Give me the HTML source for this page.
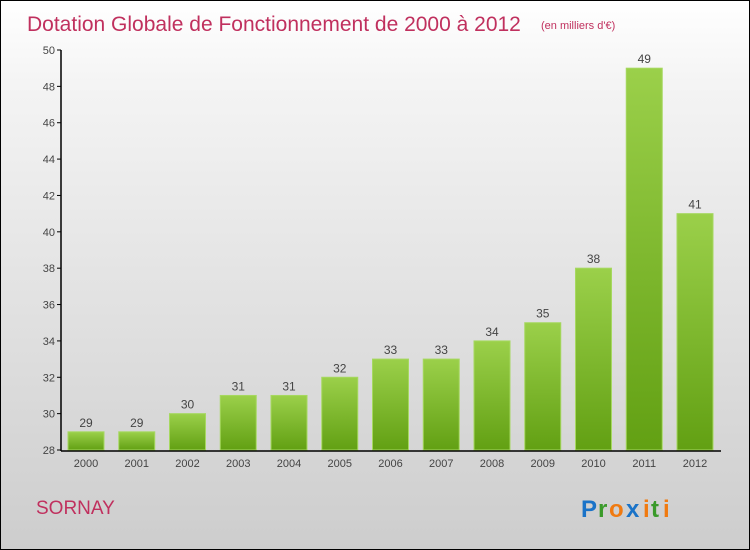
<!DOCTYPE html>
<html><head><meta charset="utf-8"><style>
body{margin:0}
#c{position:relative;width:748px;height:548px;border:1px solid #000;background:linear-gradient(#ffffff,#f4f4f4 15%,#cdcdcd);font-family:"Liberation Sans",sans-serif;overflow:hidden}
</style></head><body>
<div id="c">
<svg id="s" width="748" height="548">
<defs><linearGradient id="g" x1="0" y1="0" x2="0" y2="1"><stop offset="0" stop-color="#9bd04a"/><stop offset="1" stop-color="#62a013"/></linearGradient></defs>
<text x="26" y="30" font-size="21" fill="#c0305e">Dotation Globale de Fonctionnement de 2000 à 2012</text>
<text x="540" y="28" font-size="11" fill="#c0305e">(en milliers d'€)</text>
<text x="35" y="513" font-size="19" fill="#c0305e">SORNAY</text>
<g font-size="24" font-weight="bold"><text x="580" y="516" fill="#1a73c8">P</text><text x="597" y="516" fill="#3a9a2a">r</text><text x="608" y="516" fill="#f07a10">o</text><text x="625" y="516" fill="#1a73c8">x</text><text x="642" y="516" fill="#f07a10">i</text><text x="650" y="516" fill="#3a9a2a">t</text><text x="662" y="516" fill="#f07a10">i</text></g>
<g id="plot"></g>
</svg></div>
<script>
const years=["2000","2001","2002","2003","2004","2005","2006","2007","2008","2009","2010","2011","2012"];
const values=[29,29,30,31,31,32,33,33,34,35,38,49,41];
const yTicks=[28,30,32,34,36,38,40,42,44,46,48,50];
const NS="http://www.w3.org/2000/svg";
const p=document.getElementById('plot');
const y0=449,y1=49,vmin=28,vmax=50;
function ys(v){return y0-(v-vmin)/(vmax-vmin)*(y0-y1);}
function xs(i){return 67+i*50.75;}
function mk(t,a,txt){const e=document.createElementNS(NS,t);for(const k in a)e.setAttribute(k,a[k]);if(txt!==undefined)e.textContent=txt;p.appendChild(e);return e;}
yTicks.forEach(v=>{
 const t=mk('text',{x:54,y:ys(v)+4,'font-size':11,fill:'#444','text-anchor':'end'},v);
 
 
 const l=mk('line',{x1:56,x2:60,y1:ys(v),y2:ys(v),stroke:'#000'});
 
 
});
values.forEach((v,i)=>{
 const x=xs(i);
 const r=mk('rect',{x:x,y:ys(v),width:36,height:y0-ys(v),fill:'url(#g)',stroke:'#a6d860','stroke-width':1});
 
 
 const t=mk('text',{x:x+18,y:ys(v)-5,'font-size':12,fill:'#444','text-anchor':'middle'},v);
 
 
 const xl=mk('text',{x:x+18,y:466,'font-size':11,fill:'#444','text-anchor':'middle'},years[i]);
 
 
});
const ya=mk('line',{x1:60,x2:60,y1:y1,y2:y0+1,stroke:'#000','stroke-width':1.5});


const xa=mk('line',{x1:60,x2:720,y1:y0+1,y2:y0+1,stroke:'#000','stroke-width':1.5});


</script>
</body></html>
